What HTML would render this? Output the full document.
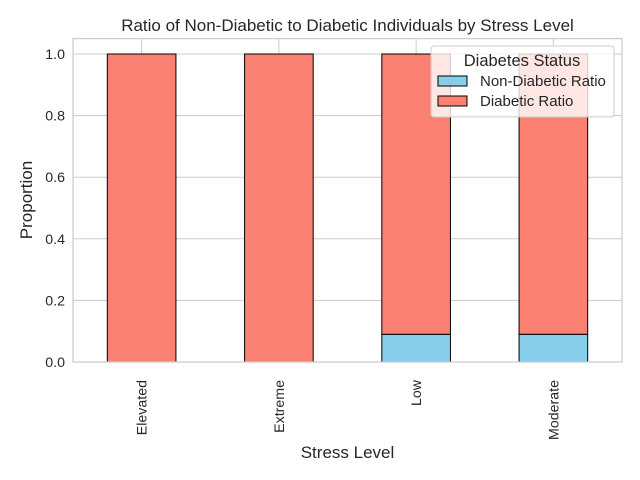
<!DOCTYPE html>
<html><head><meta charset="utf-8"><style>body{margin:0;background:#fff}svg{display:block;font-family:"Liberation Sans",Arial,sans-serif}</style></head>
<body>
<svg id="chart" width="640" height="480" viewBox="0 0 640 480" xmlns="http://www.w3.org/2000/svg">
<rect width="640" height="480" fill="#fff"/>
<text x="347.5" y="31" text-anchor="middle" font-size="17" fill="#262626">Ratio of Non-Diabetic to Diabetic Individuals by Stress Level</text>
<g id="grid"></g><g id="bars"></g><g id="axes"></g>
<g>
<rect x="431" y="46" width="183" height="71" rx="3" fill="#fff" fill-opacity="0.8" stroke="#ccc"/>
<text x="522" y="66" text-anchor="middle" font-size="16.5" fill="#262626">Diabetes Status</text>
<g><rect x="438" y="76" width="29" height="10" fill="#87ceeb" stroke="#000"/><text x="480" y="86" font-size="15" fill="#262626">Non-Diabetic Ratio</text></g>
<g><rect x="438" y="96" width="29" height="10" fill="#fa8072" stroke="#000"/><text x="480" y="106" font-size="15" fill="#262626">Diabetic Ratio</text></g>
</g>
<text x="347.5" y="458" text-anchor="middle" font-size="17" fill="#262626">Stress Level</text>
<text transform="translate(32,200) rotate(-90)" text-anchor="middle" font-size="17" fill="#262626">Proportion</text>
</svg>
<script>
const categories=["Elevated","Extreme","Low","Moderate"];
const nonDiabetic=[0,0,0.09,0.09];
const diabetic=[1,1,0.91,0.91];
const yTicks=[0,0.2,0.4,0.6,0.8,1.0];
const yTickLabels=["0.0","0.2","0.4","0.6","0.8","1.0"];
const L=73,R=622,T=38.6,B=362,yMax=1.05;
const NS="http://www.w3.org/2000/svg";
const x=i=>L+(i+0.5)*(R-L)/categories.length;
const bw=0.5*(R-L)/categories.length;
const y=v=>B-v/yMax*(B-T);
function mk(p,t,a){const e=document.createElementNS(NS,t);for(const k in a)e.setAttribute(k,a[k]);p.appendChild(e);return e;}
const grid=document.getElementById('grid'),bars=document.getElementById('bars'),axes=document.getElementById('axes');
yTicks.forEach((v,i)=>{
 const g=mk(grid,'line',{x1:L,x2:R,y1:y(v),y2:y(v),stroke:'#ccc'});
 
 
 const t=mk(axes,'text',{x:L-8,y:y(v)+5,'text-anchor':'end','font-size':14.2,fill:'#262626'});
 t.textContent=yTickLabels[i];
 
 
});
categories.forEach((c,i)=>{
 const g=mk(grid,'line',{x1:x(i),x2:x(i),y1:T,y2:B,stroke:'#ccc'});
 
 
});
categories.forEach((c,i)=>{
 const b1=mk(bars,'rect',{x:x(i)-bw/2,y:y(nonDiabetic[i]),width:bw,height:B-y(nonDiabetic[i]),fill:'#87ceeb',stroke:'#000'});
 
 
 const top=nonDiabetic[i]+diabetic[i];
 const b2=mk(bars,'rect',{x:x(i)-bw/2,y:y(top),width:bw,height:y(nonDiabetic[i])-y(top),fill:'#fa8072',stroke:'#000'});
 
 
 const t=mk(axes,'text',{transform:`translate(${x(i)+5},${B+18}) rotate(-90)`,'text-anchor':'end','font-size':14.2,fill:'#262626'});
 t.textContent=c;
 
 
});
const fr=mk(axes,'rect',{x:L,y:T,width:R-L,height:B-T,fill:'none',stroke:'#ccc','stroke-width':1.25});


</script>
</body></html>
